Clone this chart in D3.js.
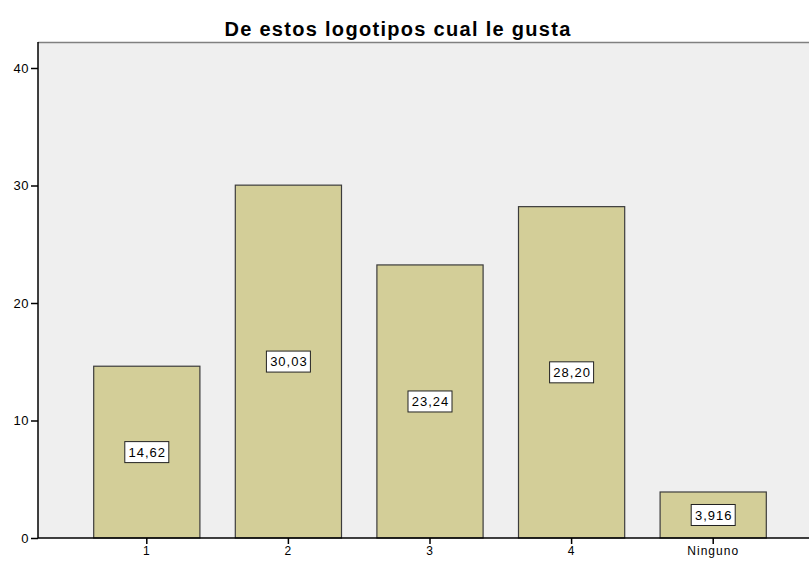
<!DOCTYPE html>
<html>
<head>
<meta charset="utf-8">
<script src="https://cdn.jsdelivr.net/npm/d3@7"></script>
<style>
  body { margin: 0; background: #fff; }
  svg { display: block; font-family: "Liberation Sans", Arial, sans-serif; }
</style>
</head>
<body>
<div id="chart"></div>
<script>
// data
var categories = ["1", "2", "3", "4", "Ninguno"]
var values = [14.62, 30.03, 23.24, 28.20, 3.916]
var valueLabels = ["14,62", "30,03", "23,24", "28,20", "3,916"]
var yTicks = [0, 10, 20, 30, 40]

var width = 809, height = 563
var plot = {left: 38, top: 42, right: 809, bottom: 538}

var svg = d3.select("#chart").append("svg")
  .attr("width", width).attr("height", height)

var x = d3.scaleBand().domain(categories).range([76, 784]).paddingInner(0.25).paddingOuter(0.125)
var y = d3.scaleLinear().domain([0, 40]).range([plot.bottom, 68])

// plot background
svg.append("rect")
  .attr("x", plot.left).attr("y", plot.top)
  .attr("width", plot.right - plot.left).attr("height", plot.bottom - plot.top)
  .attr("fill", "#efefef")
svg.append("line")
  .attr("x1", plot.left).attr("x2", plot.right)
  .attr("y1", plot.top + 0.5).attr("y2", plot.top + 0.5)
  .attr("stroke", "#808080").attr("stroke-width", 1.5)

// bars
svg.selectAll("rect.bar").data(values).enter().append("rect")
  .attr("class", "bar")
  .attr("x", function(d, i) { return x(categories[i]) })
  .attr("y", function(d) { return y(d) })
  .attr("width", x.bandwidth())
  .attr("height", function(d) { return y(0) - y(d) })
  .attr("fill", "#d3ce98")
  .attr("stroke", "#3c3c3c").attr("stroke-width", 1.2)

// value labels in boxes
var lab = svg.selectAll("g.lab").data(values).enter().append("g")
  .attr("transform", function(d, i) {
    return "translate(" + (x(categories[i]) + x.bandwidth() / 2) + "," + y(d / 2) + ")"
  })
lab.append("rect")
  .attr("x", -22).attr("y", -10.5).attr("width", 44).attr("height", 21)
  .attr("fill", "#fff").attr("stroke", "#222").attr("stroke-width", 1)
lab.append("text")
  .attr("text-anchor", "middle").attr("dy", "0.36em").attr("dx", 0.5)
  .attr("font-size", 13).attr("letter-spacing", 1).attr("fill", "#000")
  .text(function(d, i) { return valueLabels[i] })

// y axis
var yAxis = svg.append("g").attr("transform", "translate(" + plot.left + ",0)")
  .call(d3.axisLeft(y).tickValues(yTicks).tickSize(7).tickPadding(2))
yAxis.select(".domain").attr("d", "M0," + plot.top + "V" + plot.bottom).attr("stroke", "#000").attr("stroke-width", 1.5)
yAxis.selectAll(".tick line").attr("stroke", "#000").attr("stroke-width", 1.5)
yAxis.selectAll("text").attr("font-size", 13).attr("letter-spacing", 0.5).attr("fill", "#000").attr("font-family", null)

// x axis
var xAxis = svg.append("g").attr("transform", "translate(0," + plot.bottom + ")")
  .call(d3.axisBottom(x).tickSize(6).tickPadding(2))
xAxis.select(".domain").attr("d", "M" + plot.left + ",0H" + plot.right).attr("stroke", "#000").attr("stroke-width", 1.5)
xAxis.selectAll(".tick line").attr("stroke", "#000").attr("stroke-width", 1.5)
xAxis.selectAll("text").attr("font-size", 12).attr("letter-spacing", 1).attr("fill", "#000").attr("font-family", null)

// title
svg.append("text")
  .attr("x", 398).attr("y", 36)
  .attr("text-anchor", "middle")
  .attr("font-size", 20).attr("font-weight", "bold").attr("letter-spacing", 1.3)
  .text("De estos logotipos cual le gusta")
</script>
</body>
</html>
